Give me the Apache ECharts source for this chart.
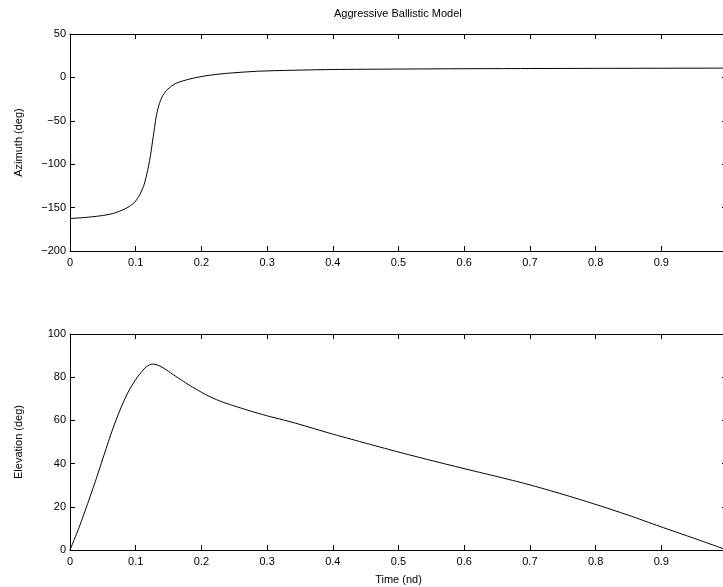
<!DOCTYPE html>
<html>
<head>
<meta charset="utf-8">
<script src="https://cdn.jsdelivr.net/npm/echarts@6/dist/echarts.min.js"></script>
<style>
html,body{margin:0;padding:0;background:#fff;}
#chart{width:723px;height:587px;}
</style>
</head>
<body>
<div id="chart"></div>
<script>
var titleText = 'Aggressive Ballistic Model';
var xLabel = 'Time (nd)';
var azLabel = 'Azimuth (deg)';
var elLabel = 'Elevation (deg)';

var azTime = [0, 0.024, 0.045, 0.065, 0.085, 0.098, 0.1065, 0.113, 0.118, 0.122, 0.125, 0.128, 0.131, 0.135, 0.141, 0.149, 0.161, 0.182, 0.207, 0.237, 0.289, 0.35, 0.4, 0.5, 0.6, 0.8, 1.0];
var azValues = [-162.6, -161.3, -159.6, -156.9, -151, -144.2, -134.6, -123, -107.6, -92.3, -76.9, -61.5, -46.2, -32.7, -21.1, -13.5, -6.9, -1.9, 1.9, 4.6, 7.2, 8.4, 9.1, 9.6, 10, 10.4, 10.7];

var elTime = [0, 0.014, 0.027, 0.040, 0.052, 0.065, 0.078, 0.090, 0.103, 0.116, 0.1258, 0.136, 0.147, 0.160, 0.173, 0.186, 0.198, 0.210, 0.223, 0.236, 0.249, 0.274, 0.299, 0.325, 0.348, 0.396, 0.446, 0.497, 0.548, 0.609, 0.65, 0.697, 0.75, 0.797, 0.85, 0.898, 0.95, 1.0];
var elValues = [0, 10.6, 21.6, 33.0, 44.2, 56.0, 66.2, 74.0, 80.2, 84.8, 86.1, 85.3, 83.3, 80.6, 78.0, 75.5, 73.4, 71.4, 69.6, 68.1, 66.8, 64.4, 62.2, 60.2, 58.3, 54.0, 49.8, 45.6, 41.6, 37.0, 34.0, 30.4, 25.8, 21.4, 16.1, 10.9, 5.4, 0];

var xTicks = {min: 0, max: 1, interval: 0.1};
var azTicks = {min: -200, max: 50, interval: 50};
var elTicks = {min: 0, max: 100, interval: 20};

function pairs(xs, ys) { return xs.map(function (x, i) { return [x, ys[i]]; }); }

var FONT = '"Liberation Sans", Arial, Helvetica, sans-serif';
var lineStyle = {color: '#000', width: 1};
function fmtNum(v) {
  var s = String(Math.round(v * 1000) / 1000);
  return s.replace('-', '\u2212');
}

function xAxisPair(gi, withName) {
  return [
    {type: 'value', gridIndex: gi, position: 'bottom', min: xTicks.min, max: xTicks.max, interval: xTicks.interval,
     axisLine: {show: true, onZero: false, lineStyle: lineStyle},
     axisTick: {show: true, inside: true, length: 5, lineStyle: lineStyle},
     axisLabel: {color: '#000', fontFamily: FONT, fontSize: 11, margin: 6, formatter: fmtNum, hideOverlap: false},
     splitLine: {show: false},
     name: withName ? xLabel : '', nameLocation: 'middle', nameGap: 24,
     nameTextStyle: {color: '#000', fontFamily: FONT, fontSize: 11}},
    {type: 'value', gridIndex: gi, position: 'top', min: xTicks.min, max: xTicks.max, interval: xTicks.interval,
     axisLine: {show: true, onZero: false, lineStyle: lineStyle},
     axisTick: {show: true, inside: true, length: 5, lineStyle: lineStyle},
     axisLabel: {show: false}, splitLine: {show: false}}
  ];
}
function yAxisPair(gi, ticks, name) {
  return [
    {type: 'value', gridIndex: gi, position: 'left', min: ticks.min, max: ticks.max, interval: ticks.interval,
     axisLine: {show: true, onZero: false, lineStyle: lineStyle},
     axisTick: {show: true, inside: true, length: 5, lineStyle: lineStyle},
     axisLabel: {color: '#000', fontFamily: FONT, fontSize: 11, margin: 4, formatter: fmtNum},
     splitLine: {show: false},
     name: name, nameLocation: 'middle', nameGap: 46,
     nameTextStyle: {color: '#000', fontFamily: FONT, fontSize: 11}},
    {type: 'value', gridIndex: gi, position: 'right', min: ticks.min, max: ticks.max, interval: ticks.interval,
     axisLine: {show: true, onZero: false, lineStyle: lineStyle},
     axisTick: {show: true, inside: true, length: 5, lineStyle: lineStyle},
     axisLabel: {show: false}, splitLine: {show: false}}
  ];
}

var chart = echarts.init(document.getElementById('chart'), null, {renderer: 'canvas'});
chart.setOption({
  backgroundColor: '#fff',
  animation: false,
  title: {text: titleText, left: 334, top: 8, padding: 0,
          textStyle: {color: '#000', fontFamily: FONT, fontSize: 11, fontWeight: 'normal'}},
  grid: [
    {left: 70, top: 34, width: 657, height: 217, outerBoundsMode: 'none', containLabel: false},
    {left: 70, top: 334, width: 657, height: 216, outerBoundsMode: 'none', containLabel: false}
  ],
  xAxis: xAxisPair(0, false).concat(xAxisPair(1, true)),
  yAxis: yAxisPair(0, azTicks, azLabel).concat(yAxisPair(1, elTicks, elLabel)),
  series: [
    {type: 'line', xAxisIndex: 0, yAxisIndex: 0, data: pairs(azTime, azValues), showSymbol: false,
     smooth: 0.25, lineStyle: {color: '#000', width: 1}},
    {type: 'line', xAxisIndex: 2, yAxisIndex: 2, data: pairs(elTime, elValues), showSymbol: false,
     smooth: 0.25, lineStyle: {color: '#000', width: 1}}
  ]
});
</script>
</body>
</html>
